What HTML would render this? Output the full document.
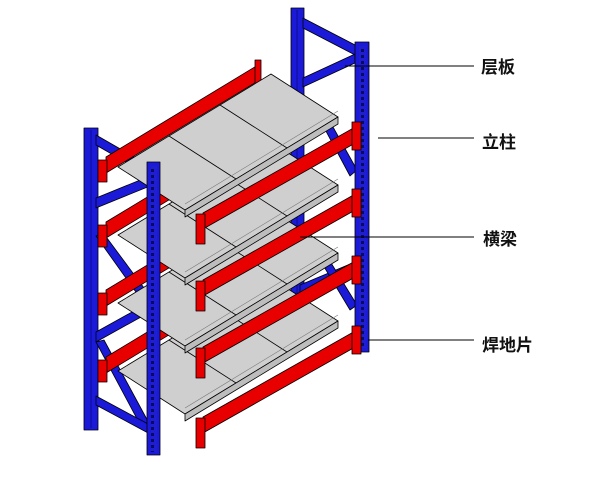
<!DOCTYPE html>
<html><head><meta charset="utf-8"><style>
html,body{margin:0;padding:0;background:#fff;width:600px;height:480px;overflow:hidden}
</style></head><body>
<svg width="600" height="480" viewBox="0 0 600 480" xmlns="http://www.w3.org/2000/svg">
<defs>
<pattern id="slots" x="0" y="0" width="6" height="6" patternUnits="userSpaceOnUse">
<rect width="6" height="6" fill="#1f1fd0"/><rect x="1" y="1" width="3" height="3" fill="#0a0a60"/>
</pattern>
</defs>
<g stroke="#000" stroke-width="0.8" stroke-linejoin="round">
<rect x="291" y="8" width="13" height="300" fill="#1a1ad8"/>
<line x1="297" y1="10" x2="297" y2="305" stroke="#0a0a80"/>
<polygon points="303,18 357,46 357,56 303,28" fill="#1a1ad8"/>
<polygon points="303,78 355,54 355,63 303,87" fill="#1a1ad8"/>
<polygon points="320,120 328,118 357,170 350,176" fill="#1a1ad8"/>
<polygon points="300,285 355,262 355,271 300,294" fill="#1a1ad8"/>
<polygon points="320,260 328,258 357,305 350,310" fill="#1a1ad8"/>
<rect x="84" y="128" width="14" height="302" fill="#1a1ad8"/>
<line x1="91" y1="130" x2="91" y2="428" stroke="#0a0a80"/>
<polygon points="96,135 150,166 150,176 96,145" fill="#1a1ad8"/>
<polygon points="96,198 150,176 150,186 96,208" fill="#1a1ad8"/>
<polygon points="96,236 104,234 150,296 143,302" fill="#1a1ad8"/>
<polygon points="96,332 150,302 150,312 96,342" fill="#1a1ad8"/>
<polygon points="96,342 104,340 150,425 143,430" fill="#1a1ad8"/>
<polygon points="96,396 150,425 150,434 96,405" fill="#1a1ad8"/>
<polygon points="106,157 258,65 258,81 106,173" fill="#e80000"/>
<rect x="255" y="60" width="6" height="24" fill="#e80000"/>
<polygon points="106,222 258,130 258,146 106,238" fill="#e80000"/>
<polygon points="106,290 258,198 258,214 106,306" fill="#e80000"/>
<polygon points="106,357 258,265 258,281 106,373" fill="#e80000"/>
<rect x="98" y="160" width="9" height="22" fill="#e80000"/>
<rect x="98" y="225" width="9" height="22" fill="#e80000"/>
<rect x="98" y="293" width="9" height="22" fill="#e80000"/>
<rect x="98" y="360" width="9" height="22" fill="#e80000"/>
</g>
<g stroke="#000" stroke-width="0.8" stroke-linejoin="round">
<g>
<polygon points="185,414 338,321 271,278 118,371" fill="#cfcfcf"/>
<polygon points="185,414 338,321 338,328 185,421" fill="#bdbdbd"/>
<line x1="236" y1="383" x2="169" y2="340"/><line x1="287" y1="352" x2="220" y2="309"/>
<line x1="185" y1="408" x2="338" y2="315" stroke="#777" stroke-width="0.6"/>
</g>
<g>
<polygon points="185,346 338,253 271,210 118,303" fill="#cfcfcf"/>
<polygon points="185,346 338,253 338,260 185,353" fill="#bdbdbd"/>
<line x1="236" y1="315" x2="169" y2="272"/><line x1="287" y1="284" x2="220" y2="241"/>
<line x1="185" y1="340" x2="338" y2="247" stroke="#777" stroke-width="0.6"/>
</g>
<g>
<polygon points="185,278 338,185 271,142 118,235" fill="#cfcfcf"/>
<polygon points="185,278 338,185 338,192 185,285" fill="#bdbdbd"/>
<line x1="236" y1="247" x2="169" y2="204"/><line x1="287" y1="216" x2="220" y2="173"/>
<line x1="185" y1="272" x2="338" y2="179" stroke="#777" stroke-width="0.6"/>
</g>
<g>
<polygon points="185,210 338,117 271,74 118,167" fill="#cfcfcf"/>
<polygon points="185,210 338,117 338,124 185,217" fill="#bdbdbd"/>
<line x1="236" y1="179" x2="169" y2="136"/><line x1="287" y1="148" x2="220" y2="105"/>
<line x1="185" y1="204" x2="338" y2="111" stroke="#777" stroke-width="0.6"/>
</g>
</g>
<g stroke="#000" stroke-width="0.8" stroke-linejoin="round">
<rect x="355" y="42" width="14" height="310" fill="#1a1ad8"/>
<rect x="359" y="46" width="7" height="302" fill="url(#slots)" stroke="none"/>
<polygon points="203,213 357,126 357,142 203,229" fill="#e80000"/>
<polygon points="203,280 357,193 357,209 203,296" fill="#e80000"/>
<polygon points="203,347 357,260 357,276 203,363" fill="#e80000"/>
<polygon points="203,417 357,330 357,346 203,433" fill="#e80000"/>
<rect x="196" y="214" width="9" height="30" fill="#e80000"/>
<rect x="196" y="281" width="9" height="30" fill="#e80000"/>
<rect x="196" y="348" width="9" height="30" fill="#e80000"/>
<rect x="196" y="418" width="9" height="30" fill="#e80000"/>
<rect x="352" y="122" width="9" height="28" fill="#e80000"/>
<rect x="352" y="189" width="9" height="28" fill="#e80000"/>
<rect x="352" y="256" width="9" height="28" fill="#e80000"/>
<rect x="352" y="326" width="9" height="28" fill="#e80000"/>
<rect x="147" y="162" width="13" height="293" fill="#1a1ad8"/>
<rect x="151" y="166" width="6" height="286" fill="url(#slots)" stroke="none"/>
</g>
<g stroke="#000" stroke-width="1">
<line x1="345" y1="66" x2="474" y2="66"/>
<line x1="378" y1="138" x2="474" y2="138"/>
<line x1="300" y1="237" x2="474" y2="237"/>
<line x1="368" y1="340" x2="474" y2="340"/>
</g>
<g font-family="'Liberation Sans','Noto Sans CJK SC',sans-serif" font-size="17" font-weight="bold" fill="#111">
<text x="481" y="73">层板</text>
<text x="482" y="148">立柱</text>
<text x="483" y="245">横梁</text>
<text x="482" y="351">焊地片</text>
</g>
</svg>
</body></html>
